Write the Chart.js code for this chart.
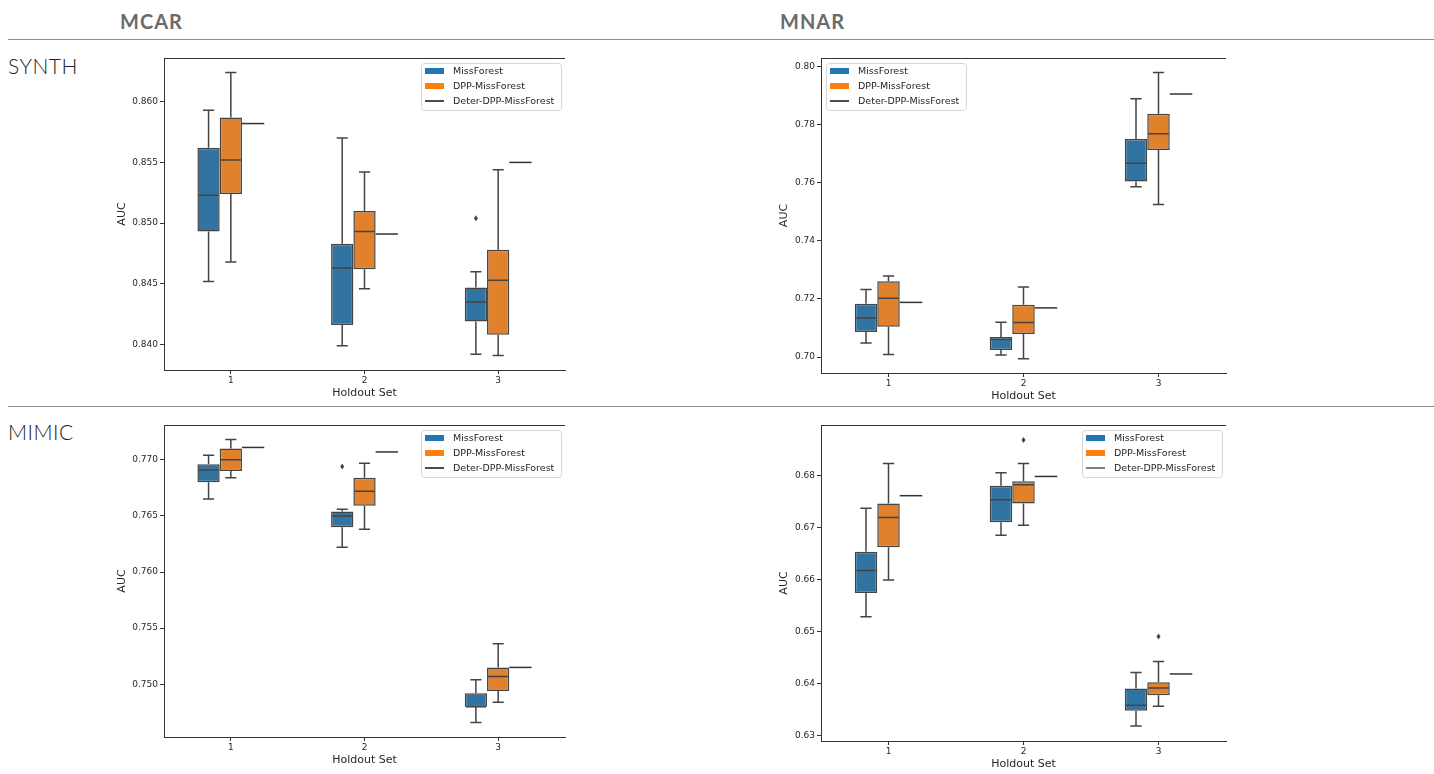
<!DOCTYPE html>
<html>
<head>
<meta charset="utf-8">
<script src="https://cdn.jsdelivr.net/npm/chart.js@4.4.1/dist/chart.umd.min.js"></script>
<style>
  body { margin: 0; background: #fff; width: 1434px; height: 774px; position: relative; overflow: hidden; }
  .head { position: absolute; top: 11px; font: 700 20px Lato, sans-serif; line-height: 20px; color: #6b6b6b; letter-spacing: 1px; }
  .rowlab { position: absolute; left: 8px; font: 300 21px Lato, sans-serif; line-height: 21px; color: #222222; letter-spacing: 0.5px; }
  .rule { position: absolute; left: 8px; width: 1426px; height: 1px; background: #8c8c8c; }
  .panel { position: absolute; }
</style>
</head>
<body>
<div class="head" style="left:120px">MCAR</div>
<div class="head" style="left:780px">MNAR</div>
<div class="rule" style="top:39px"></div>
<div class="rule" style="top:406px"></div>
<div class="rowlab" style="top:55px">SYNTH</div>
<div class="rowlab" style="top:421px">MIMIC</div>

<div class="panel" style="left:100px;top:50px"><canvas id="synthMcar" width="469" height="356"></canvas></div>
<div class="panel" style="left:757px;top:50px"><canvas id="synthMnar" width="473" height="359"></canvas></div>
<div class="panel" style="left:100px;top:417px"><canvas id="mimicMcar" width="469" height="356"></canvas></div>
<div class="panel" style="left:757px;top:417px"><canvas id="mimicMnar" width="473" height="360"></canvas></div>

<script>
const holdoutSets = ['1', '2', '3'];
const seriesNames = ['MissForest', 'DPP-MissForest', 'Deter-DPP-MissForest'];

// each box: [lower whisker, Q1, median, Q3, upper whisker]
const synthMcarMiss = [[0.8452, 0.8493, 0.8523, 0.8562, 0.8593], [0.8399, 0.8416, 0.8463, 0.8483, 0.8570], [0.8392, 0.8419, 0.8435, 0.8447, 0.8460]];
const synthMcarDpp = [[0.8468, 0.8524, 0.8552, 0.8587, 0.8624], [0.8446, 0.8462, 0.8493, 0.8510, 0.8542], [0.8391, 0.8408, 0.8453, 0.8478, 0.8544]];
const synthMcarDeter = [0.8582, 0.8491, 0.8550];
const synthMcarMissOut = [[], [], [0.8504]];
const synthMcarDppOut = [[], [], []];
const synthMcarTicks = [0.840, 0.845, 0.850, 0.855, 0.860];

const synthMnarMiss = [[0.7048, 0.7086, 0.7134, 0.7183, 0.7232], [0.7007, 0.7024, 0.7060, 0.7069, 0.7120], [0.7586, 0.7604, 0.7667, 0.7750, 0.7889]];
const synthMnarDpp = [[0.7009, 0.7104, 0.7202, 0.7261, 0.7279], [0.6994, 0.7079, 0.7119, 0.7180, 0.7241], [0.7525, 0.7712, 0.7768, 0.7837, 0.7979]];
const synthMnarDeter = [0.7188, 0.7169, 0.7905];
const synthMnarMissOut = [[], [], []];
const synthMnarDppOut = [[], [], []];
const synthMnarTicks = [0.70, 0.72, 0.74, 0.76, 0.78, 0.80];

const mimicMcarMiss = [[0.7665, 0.7680, 0.7691, 0.7696, 0.7704], [0.7622, 0.7640, 0.7650, 0.7654, 0.7656], [0.7466, 0.7480, 0.7480, 0.7492, 0.7504]];
const mimicMcarDpp = [[0.7684, 0.7690, 0.7700, 0.7710, 0.7718], [0.7638, 0.7659, 0.7672, 0.7684, 0.7697], [0.7484, 0.7494, 0.7507, 0.7515, 0.7536]];
const mimicMcarDeter = [0.7711, 0.7707, 0.7515];
const mimicMcarMissOut = [[], [0.7694], []];
const mimicMcarDppOut = [[], [], []];
const mimicMcarTicks = [0.750, 0.755, 0.760, 0.765, 0.770];

const mimicMnarMiss = [[0.6529, 0.6575, 0.6618, 0.6654, 0.6738], [0.6686, 0.6711, 0.6754, 0.6781, 0.6806], [0.6319, 0.6348, 0.6359, 0.6391, 0.6422]];
const mimicMnarDpp = [[0.6600, 0.6663, 0.6720, 0.6747, 0.6824], [0.6705, 0.6747, 0.6783, 0.6790, 0.6824], [0.6357, 0.6378, 0.6392, 0.6403, 0.6443]];
const mimicMnarDeter = [0.6762, 0.6799, 0.6419];
const mimicMnarMissOut = [[], [], []];
const mimicMnarDppOut = [[], [0.6869], [0.6491]];
const mimicMnarTicks = [0.63, 0.64, 0.65, 0.66, 0.67, 0.68];

const boxColors = ['#3274a1', '#e1812c'];
const legendColors = ['#1f77b4', '#ff7f0e'];
const edgeColor = '#444444';

Chart.defaults.font.family = '"DejaVu Sans", sans-serif';
Chart.defaults.font.size = 9;
Chart.defaults.color = '#262626';

// whiskers, medians, outliers and the single-value Deter line
const boxPlugin = {
    id: 'boxes',
    afterDatasetsDraw(chart) {
        const ctx = chart.ctx;
        const y = chart.scales.y;
        ctx.save();
        ctx.strokeStyle = edgeColor;
        ctx.lineWidth = 1.5;
        chart.data.datasets.forEach((ds, i) => {
            const meta = chart.getDatasetMeta(i);
            meta.data.forEach((el, j) => {
                const x = el.x, w = el.width;
                if (ds.stats) {
                    const s = ds.stats[j];
                    ctx.beginPath();
                    ctx.moveTo(x, y.getPixelForValue(s[3]));
                    ctx.lineTo(x, y.getPixelForValue(s[4]));
                    ctx.moveTo(x, y.getPixelForValue(s[1]));
                    ctx.lineTo(x, y.getPixelForValue(s[0]));
                    ctx.moveTo(x - w / 4, y.getPixelForValue(s[4]));
                    ctx.lineTo(x + w / 4, y.getPixelForValue(s[4]));
                    ctx.moveTo(x - w / 4, y.getPixelForValue(s[0]));
                    ctx.lineTo(x + w / 4, y.getPixelForValue(s[0]));
                    ctx.moveTo(x - w / 2 + 1, y.getPixelForValue(s[2]));
                    ctx.lineTo(x + w / 2 - 1, y.getPixelForValue(s[2]));
                    ctx.stroke();
                    ds.outliers[j].forEach(v => {
                        const py = y.getPixelForValue(v);
                        ctx.beginPath();
                        ctx.moveTo(x, py - 3);
                        ctx.lineTo(x + 2, py);
                        ctx.lineTo(x, py + 3);
                        ctx.lineTo(x - 2, py);
                        ctx.closePath();
                        ctx.fillStyle = edgeColor;
                        ctx.fill();
                    });
                } else if (ds.single) {
                    const py = y.getPixelForValue(ds.single[j]);
                    ctx.strokeStyle = '#333333';
                    ctx.beginPath();
                    ctx.moveTo(x - w / 2, py);
                    ctx.lineTo(x + w / 2, py);
                    ctx.stroke();
                    ctx.strokeStyle = edgeColor;
                }
            });
        });
        ctx.restore();
    },
    afterDraw(chart) {
        const ctx = chart.ctx;
        const a = chart.chartArea;
        const opt = chart.options.plugins.boxLegend;
        ctx.save();
        // top spine
        ctx.strokeStyle = '#333333';
        ctx.lineWidth = 1;
        ctx.beginPath();
        ctx.moveTo(a.left, a.top + 0.5);
        ctx.lineTo(a.right, a.top + 0.5);
        ctx.stroke();
        // legend box
        const bw = 140, bh = 47;
        const bx = opt.side === 'left' ? a.left + 5 : a.right - bw - 4;
        const by = a.top + 5;
        ctx.beginPath();
        ctx.roundRect(bx + 0.5, by + 0.5, bw, bh, 3);
        ctx.fillStyle = 'rgba(255,255,255,0.8)';
        ctx.fill();
        ctx.strokeStyle = '#d6d6d6';
        ctx.stroke();
        ctx.font = '9.5px "DejaVu Sans", sans-serif';
        ctx.textBaseline = 'middle';
        seriesNames.forEach((name, k) => {
            const cy = by + 8 + k * 15;
            if (k < 2) {
                ctx.fillStyle = legendColors[k];
                ctx.fillRect(bx + 4, cy - 3, 19, 6);
            } else {
                ctx.strokeStyle = opt.lineColor;
                ctx.lineWidth = 1.5;
                ctx.beginPath();
                ctx.moveTo(bx + 4, cy);
                ctx.lineTo(bx + 23, cy);
                ctx.stroke();
            }
            ctx.fillStyle = '#262626';
            ctx.fillText(name, bx + 32, cy + 0.5);
        });
        ctx.restore();
    }
};

function makePanel(id, miss, dpp, deter, missOut, dppOut, yMin, yMax, yTicks, digits, side, lineColor, titlePad) {
    new Chart(document.getElementById(id), {
        type: 'bar',
        data: {
            labels: holdoutSets,
            datasets: [
                { label: seriesNames[0], data: miss.map(s => [s[1], s[3]]), stats: miss, outliers: missOut,
                  backgroundColor: boxColors[0], borderColor: edgeColor, borderWidth: 1.5, borderSkipped: false },
                { label: seriesNames[1], data: dpp.map(s => [s[1], s[3]]), stats: dpp, outliers: dppOut,
                  backgroundColor: boxColors[1], borderColor: edgeColor, borderWidth: 1.5, borderSkipped: false },
                { label: seriesNames[2], data: deter.map(v => [v, v]), single: deter,
                  backgroundColor: 'rgba(0,0,0,0)', borderWidth: 0 }
            ]
        },
        options: {
            responsive: false,
            animation: false,
            events: [],
            layout: { padding: { top: 8, right: 4, left: 0, bottom: 0 } },
            datasets: { bar: { categoryPercentage: 0.5, barPercentage: 1.0 } },
            scales: {
                x: {
                    offset: true,
                    grid: { offset: false, drawOnChartArea: false, tickLength: 4, tickColor: '#333333' },
                    border: { color: '#333333', width: 1 },
                    ticks: { padding: 1 },
                    title: { display: true, text: 'Holdout Set', font: { size: 11 }, padding: { top: 0, bottom: 6 } },
                    afterFit: s => { s.height = 36; }
                },
                y: {
                    min: yMin,
                    max: yMax,
                    grid: { drawOnChartArea: false, tickLength: 4, tickColor: '#333333' },
                    border: { color: '#333333', width: 1 },
                    ticks: { padding: 2, callback: v => v.toFixed(digits) },
                    afterBuildTicks: s => { s.ticks = yTicks.map(v => ({ value: v })); },
                    title: { display: true, text: 'AUC', font: { size: 11 }, padding: { top: titlePad, bottom: 0 } },
                    afterFit: s => { s.width = 64; }
                }
            },
            plugins: {
                legend: { display: false },
                tooltip: { enabled: false },
                boxLegend: { side: side, lineColor: lineColor }
            }
        },
        plugins: [boxPlugin]
    });
}

makePanel('synthMcar', synthMcarMiss, synthMcarDpp, synthMcarDeter, synthMcarMissOut, synthMcarDppOut,
    0.8379, 0.8636, synthMcarTicks, 3, 'right', '#111111', 16);
makePanel('synthMnar', synthMnarMiss, synthMnarDpp, synthMnarDeter, synthMnarMissOut, synthMnarDppOut,
    0.6945, 0.8029, synthMnarTicks, 2, 'left', '#111111', 21);
makePanel('mimicMcar', mimicMcarMiss, mimicMcarDpp, mimicMcarDeter, mimicMcarMissOut, mimicMcarDppOut,
    0.7453, 0.7731, mimicMcarTicks, 3, 'right', '#111111', 16);
makePanel('mimicMnar', mimicMnarMiss, mimicMnarDpp, mimicMnarDeter, mimicMnarMissOut, mimicMnarDppOut,
    0.6290, 0.6898, mimicMnarTicks, 2, 'right', '#555555', 21);
</script>
</body>
</html>
